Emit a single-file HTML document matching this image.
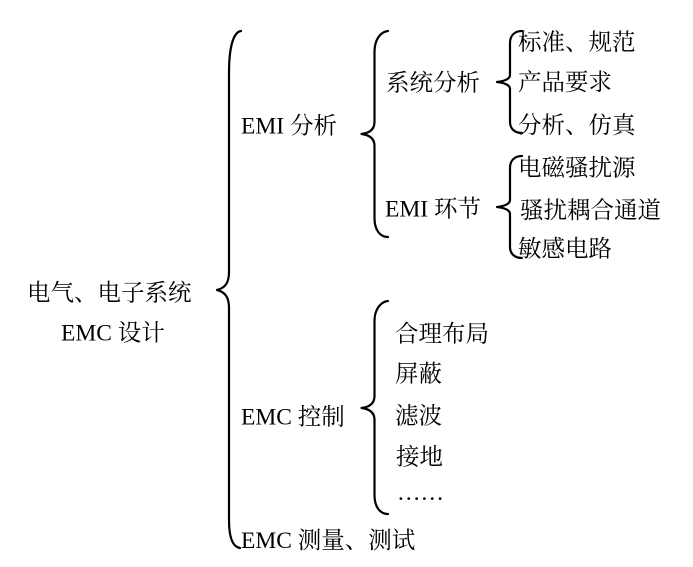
<!DOCTYPE html>
<html>
<head>
<meta charset="utf-8">
<style>
  html, body { margin: 0; padding: 0; background: #fff; }
  body { width: 693px; height: 567px; overflow: hidden; }
  svg { display: block; }
  text { font-family: "Liberation Serif", "Noto Serif CJK SC", serif; font-size: 23.5px; fill: #000; }
</style>
</head>
<body>
<svg width="693" height="567" viewBox="0 0 693 567" xmlns="http://www.w3.org/2000/svg">
  <g fill="none" stroke="#000" stroke-width="2.2" stroke-linecap="round" stroke-linejoin="round">
    <!-- Big brace -->
    <path d="M241,31 C234,32 229,45 229,73 L229,272 C229,283 225,288 217,290 C225,292 229,297 229,308 L229,520 C229,538 233,547 240,548"/>
    <!-- EMI 分析 brace -->
    <path d="M388,31 C380,32 374.5,40 374.5,52 L374.5,122 C374.5,129 370,133 361.5,134 C370,135 374.5,139 374.5,146 L374.5,218 C374.5,230 380,237 388,237"/>
    <!-- EMC 控制 brace -->
    <path d="M388,301 C380,302 374.5,310 374.5,321 L374.5,396 C374.5,403 370,407 361.5,408 C370,409 374.5,413 374.5,420 L374.5,495 C374.5,507 380,514 388,514"/>
    <!-- 系统分析 brace -->
    <path d="M522,31 C515,31 510,35 510,43 L510,75 C510,79 505,81 497,82 C505,83 510,85 510,89 L510,122 C510,129 515,133 522,133"/>
    <!-- EMI 环节 brace -->
    <path d="M522,156 C515,156 510,160 510,168 L510,200 C510,204 505,206 497,207 C505,208 510,210 510,214 L510,247 C510,254 515,258 522,258"/>
  </g>

  <!-- Root -->
  <text x="27" y="300.5">电气、电子系统</text>
  <text x="61" y="340.5">EMC 设计</text>

  <!-- Level 1 -->
  <text x="241" y="133.5">EMI 分析</text>
  <text x="241" y="424.5">EMC 控制</text>
  <text x="241" y="548">EMC 测量、测试</text>

  <!-- Level 2 -->
  <text x="386" y="90.5">系统分析</text>
  <text x="385" y="216.5">EMI 环节</text>

  <!-- Level 3 under 系统分析 -->
  <text x="518" y="50">标准、规范</text>
  <text x="518" y="90">产品要求</text>
  <text x="518" y="133">分析、仿真</text>

  <!-- Level 3 under EMI 环节 -->
  <text x="518" y="175.5">电磁骚扰源</text>
  <text x="520" y="218">骚扰耦合通道</text>
  <text x="518" y="256.5">敏感电路</text>

  <!-- EMC 控制 children -->
  <text x="395" y="341.5">合理布局</text>
  <text x="395" y="381.5">屏蔽</text>
  <text x="395" y="423.5">滤波</text>
  <text x="396" y="464.5">接地</text>
  <text x="397" y="500" style="font-family:'Liberation Serif', serif;">……</text>
</svg>
</body>
</html>
